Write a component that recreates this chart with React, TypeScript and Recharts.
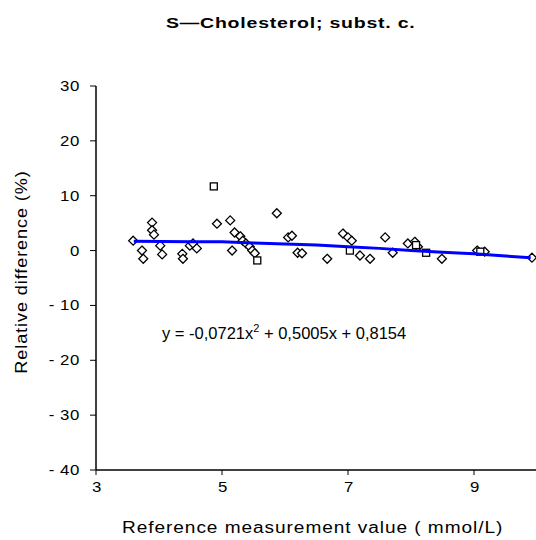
import React from 'react';
import { ScatterChart, Scatter, XAxis, YAxis } from 'recharts';

// open diamond-ish markers
const diamondPoints = [
  { x: 3.59, y: 1.8 }, { x: 3.73, y: 0 }, { x: 3.75, y: -1.5 }, { x: 3.89, y: 5.1 },
  { x: 3.89, y: 3.7 }, { x: 3.92, y: 2.9 }, { x: 4.02, y: 0.9 }, { x: 4.05, y: -0.7 },
  { x: 4.37, y: -0.6 }, { x: 4.38, y: -1.5 }, { x: 4.49, y: 0.9 }, { x: 4.54, y: 1.3 },
  { x: 4.6, y: 0.4 }, { x: 4.92, y: 4.9 }, { x: 5.13, y: 5.5 }, { x: 5.16, y: 0 },
  { x: 5.2, y: 3.3 }, { x: 5.29, y: 2.6 }, { x: 5.33, y: 1.8 }, { x: 5.38, y: 1.3 },
  { x: 5.44, y: 0.7 }, { x: 5.48, y: 0 }, { x: 5.52, y: -0.5 }, { x: 5.87, y: 6.8 },
  { x: 6.05, y: 2.4 }, { x: 6.11, y: 2.7 }, { x: 6.2, y: -0.4 }, { x: 6.27, y: -0.5 },
  { x: 6.67, y: -1.5 }, { x: 6.92, y: 3.1 }, { x: 7.0, y: 2.4 }, { x: 7.06, y: 1.8 },
  { x: 7.19, y: -0.9 }, { x: 7.35, y: -1.5 }, { x: 7.59, y: 2.4 }, { x: 7.71, y: -0.4 },
  { x: 7.95, y: 1.3 }, { x: 8.06, y: 1.6 }, { x: 8.11, y: 0.7 }, { x: 8.49, y: -1.5 },
  { x: 9.05, y: 0 }, { x: 9.17, y: -0.2 }, { x: 9.92, y: -1.3 },
];

const squarePoints = [
  { x: 4.87, y: 11.7 }, { x: 5.56, y: -1.8 }, { x: 7.03, y: 0 }, { x: 8.24, y: -0.4 },
  { x: 9.1, y: -0.2 }, { x: 8.08, y: 1.0 },
];

// fitted polynomial trend
const trendPoints = [
  { x: 3.6, y: 1.7 }, { x: 4.5, y: 1.6 }, { x: 5.0, y: 1.6 }, { x: 5.5, y: 1.4 },
  { x: 6.0, y: 1.2 }, { x: 6.5, y: 1.0 }, { x: 7.0, y: 0.7 }, { x: 7.5, y: 0.4 },
  { x: 8.0, y: 0.0 }, { x: 8.5, y: -0.3 }, { x: 9.0, y: -0.6 }, { x: 9.5, y: -1.0 },
  { x: 9.9, y: -1.3 },
];

const xTicks = [3, 5, 7, 9];
const yTicks = [-40, -30, -20, -10, 0, 10, 20, 30];

const font = '"Liberation Sans", Arial, sans-serif';

const Diamond = (props: any) => {
  const { cx, cy } = props;
  return (
    <path
      d={`M${cx},${cy - 4.5} L${cx + 4.5},${cy} L${cx},${cy + 4.5} L${cx - 4.5},${cy} Z`}
      fill="#fff"
      stroke="#000"
      strokeWidth={1.3}
    />
  );
};

const Square = (props: any) => {
  const { cx, cy } = props;
  return <rect x={cx - 3.5} y={cy - 3.5} width={7} height={7} fill="#fff" stroke="#000" strokeWidth={1.3} />;
};

// the source image is stretched sideways, so text is widened a little
const XTick = (props: any) => {
  const { x, y, payload } = props;
  return (
    <text transform={`translate(${x + 1},${y + 15}) scale(1.2,1)`} textAnchor="middle" fontSize={14} fontFamily={font} fill="#000" style={{ letterSpacing: '0.5px' }}>
      {payload.value}
    </text>
  );
};

const YTick = (props: any) => {
  const { x, y, payload } = props;
  const label = payload.value < 0 ? `- ${Math.abs(payload.value)}` : `${payload.value}`;
  return (
    <text transform={`translate(${x - 2},${y + 5}) scale(1.2,1)`} textAnchor="end" fontSize={14} fontFamily={font} fill="#000" style={{ letterSpacing: '0.5px' }}>
      {label}
    </text>
  );
};

const App = () => {
  return (
    <div style={{ position: 'absolute', left: 0, top: 0, width: 536, height: 540, overflow: 'hidden', background: '#fff', fontFamily: font }}>
      <div style={{ position: 'absolute', top: 14, left: 166, fontWeight: 'bold', fontSize: 15, letterSpacing: '0.6px', whiteSpace: 'nowrap', transform: 'scaleX(1.3)', transformOrigin: 'left top' }}>
        S—Cholesterol; subst. c.
      </div>
      <ScatterChart width={540} height={540} margin={{ top: 86, right: 3, bottom: 0, left: 0 }}>
        <XAxis
          type="number"
          dataKey="x"
          domain={[3, 10]}
          ticks={xTicks}
          tick={<XTick />}
          tickLine={{ stroke: '#000' }}
          axisLine={{ stroke: '#000', strokeWidth: 1.5 }}
          tickSize={5}
          height={70}
        />
        <YAxis
          type="number"
          dataKey="y"
          domain={[-40, 30]}
          ticks={yTicks}
          tick={<YTick />}
          tickLine={{ stroke: '#000' }}
          axisLine={{ stroke: '#000', strokeWidth: 1.5 }}
          tickSize={6}
          tickMargin={8}
          width={96}
        />
        <Scatter data={diamondPoints} shape={Diamond} isAnimationActive={false} />
        <Scatter data={squarePoints} shape={Square} isAnimationActive={false} />
        <Scatter
          data={trendPoints}
          line={{ stroke: '#0000ff', strokeWidth: 3 }}
          shape={() => <g />}
          isAnimationActive={false}
        />
      </ScatterChart>
      <div style={{ position: 'absolute', top: 322, left: 162, fontSize: 16.5, color: '#000', whiteSpace: 'nowrap' }}>
        y = -0,0721x<sup style={{ fontSize: 11 }}>2</sup> + 0,5005x + 0,8154
      </div>
      <div style={{ position: 'absolute', top: 519, left: 122, fontSize: 16, letterSpacing: '0.8px', whiteSpace: 'nowrap', transform: 'scaleX(1.19)', transformOrigin: 'left top' }}>
        Reference measurement value ( mmol/L)
      </div>
      <div
        style={{
          position: 'absolute',
          left: 22,
          top: 272,
          fontSize: 16,
          letterSpacing: '0.8px',
          whiteSpace: 'nowrap',
          transform: 'translate(-50%, -50%) rotate(-90deg) scaleX(1.13)',
        }}
      >
        Relative difference (%)
      </div>
    </div>
  );
};

export default App;
